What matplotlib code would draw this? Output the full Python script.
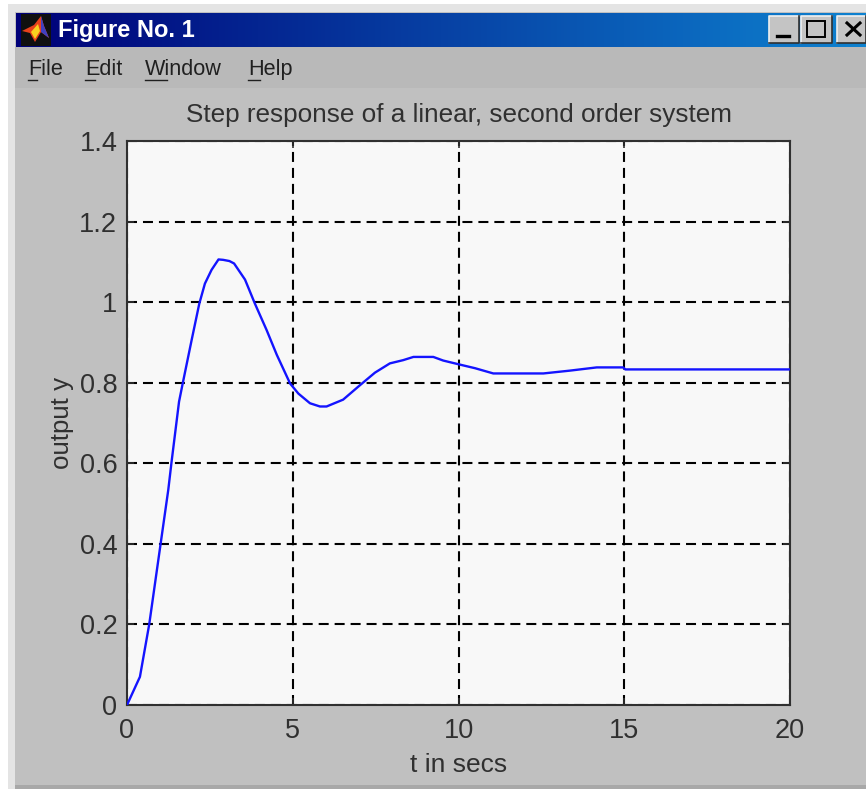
import numpy as np
import matplotlib
matplotlib.use('Agg')
import matplotlib.pyplot as pl
from matplotlib.patches import Rectangle, Polygon

# values
t_secs = [0, 0.39, 0.67, 0.945, 1.245, 1.345, 1.57, 1.68, 1.95, 2.18, 2.35, 2.55, 2.76, 2.9, 3.09, 3.23,
          3.56, 3.86, 4.21, 4.52, 4.92, 5.17, 5.52, 5.82, 6.02, 6.52, 7.03, 7.48, 7.93, 8.33, 8.64, 9.24, 9.54,
          9.99, 10.5, 11.05, 12.56, 13.36, 14.17, 14.97, 15.03, 20.0]
output_y = [0, 0.07, 0.2, 0.36, 0.534, 0.604, 0.753, 0.798, 0.906, 0.996, 1.046, 1.08, 1.106, 1.105, 1.102, 1.096,
            1.056, 0.996, 0.931, 0.869, 0.798, 0.773, 0.749, 0.741, 0.741, 0.758, 0.794, 0.825, 0.848, 0.856, 0.864, 0.864, 0.855,
            0.846, 0.836, 0.823, 0.823, 0.83, 0.838, 0.838, 0.833, 0.833]
x_ticks = [0, 5, 10, 15, 20]
y_ticks = [0, 0.2, 0.4, 0.6, 0.8, 1, 1.2, 1.4]
y_tick_labels = ['0', '0.2', '0.4', '0.6', '0.8', '1', '1.2', '1.4']
menu_items = ['File', 'Edit', 'Window', 'Help']
menu_x = [28, 85, 145, 248]
menu_ul = [(28, 37), (85, 95), (145, 167), (248, 260)]

W, H = 866, 789
FONT = 'Liberation Sans'
pl.rcParams['font.family'] = FONT
pl.rcParams['lines.scale_dashes'] = False

fig = pl.figure(figsize=(W/100, H/100), dpi=100, facecolor='white')

# window chrome is drawn in pixel coords, y pointing down
bg = fig.add_axes([0, 0, 1, 1])
bg.axis('off')

def box(x0, y0, x1, y1, col, z=1):
    bg.add_patch(Rectangle((x0, y0), x1-x0, y1-y0, fc=col, ec='none', zorder=z))

box(8, 4, W, H, '#e4e4e4')
box(15, 12, W, 787, '#c0c0c0')
box(15, 47, W, 88, '#b9b9b9')
box(15, 785, W, 789, '#a8a8a8')

# title bar gradient
grad = np.linspace(0, 1, 256)[None, :, None]
c0 = np.array([0, 0, 120])/255.
c1 = np.array([14, 130, 208])/255.
bg.imshow(c0 + grad*(c1-c0), extent=(16, W, 47, 13), aspect='auto', zorder=2)
bg.set_xlim(0, W)
bg.set_ylim(H, 0)

# matlab logo
box(21, 14, 51, 46, '#101010', 3)
bg.add_patch(Polygon([(22, 31), (34, 25), (41, 16), (44, 26), (49, 38), (41, 32), (35, 42), (30, 33)],
                     fc='#e8401c', ec='none', zorder=4))
bg.add_patch(Polygon([(41, 16), (44, 26), (49, 38), (41, 32)], fc='#4040c0', ec='none', zorder=4))
bg.add_patch(Polygon([(31, 32), (38, 24), (40, 31), (35, 39)], fc='#f8d020', ec='none', zorder=4))

bg.text(58, 30.5, 'Figure No. 1', color='white', fontsize=17, weight='bold', ha='left', va='center', zorder=4)

# window buttons
for x0, x1 in [(769, 799), (801, 832), (837, 866)]:
    box(x0, 16, x1, 43, '#c4c4c4', 3)
    bg.plot([x0, x0, x1], [43, 16, 16], color='#f0f0f0', lw=1.2, zorder=4)
    bg.plot([x0, x1, x1], [43, 43, 16], color='#303030', lw=1.2, zorder=4)
bg.plot([777, 789], [36, 36], color='black', lw=2.4, zorder=4)
bg.add_patch(Rectangle((807, 21), 18, 16, fc='none', ec='black', lw=1.4, zorder=4))
bg.plot([847, 860], [23, 35], color='black', lw=2.2, zorder=4)
bg.plot([847, 860], [35, 23], color='black', lw=2.2, zorder=4)

# menu
for name, x, ul in zip(menu_items, menu_x, menu_ul):
    bg.text(x, 69, name, color='#202020', fontsize=15.6, ha='left', va='center', zorder=4)
    bg.plot(ul, [80, 80], color='#202020', lw=1.0, zorder=4)

# the plot itself
ax = fig.add_axes([127/W, 1-705/H, (790-127)/W, (705-141)/H], facecolor='#f8f8f8')
ax.plot(t_secs, output_y, color='#1414ff', lw=1.7, zorder=3)
ax.set_xlim(0, 20)
ax.set_ylim(0, 1.4)
ax.set_xticks(x_ticks)
ax.set_yticks(y_ticks)
ax.set_yticklabels(y_tick_labels)
ax.grid(True, color='black', lw=1.5, linestyle=(0, (7.2, 4.3)))
ax.set_axisbelow(True)
ax.tick_params(direction='in', top=True, right=True, length=5, width=1.2, color='#303030',
               labelsize=19.5, labelcolor='#303030', pad=7)
ax.tick_params(axis='x', pad=9)
for s in ax.spines.values():
    s.set_color('#303030')
    s.set_linewidth(1.5)

ax.set_title('Step response of a linear, second order system', fontsize=18.8, color='#303030', pad=13.5)
ax.set_xlabel('t in secs', fontsize=19, color='#303030', labelpad=7)
ax.set_ylabel('output y', fontsize=18.6, color='#303030', labelpad=3.7)

fig.savefig('out.png', dpi=100)
